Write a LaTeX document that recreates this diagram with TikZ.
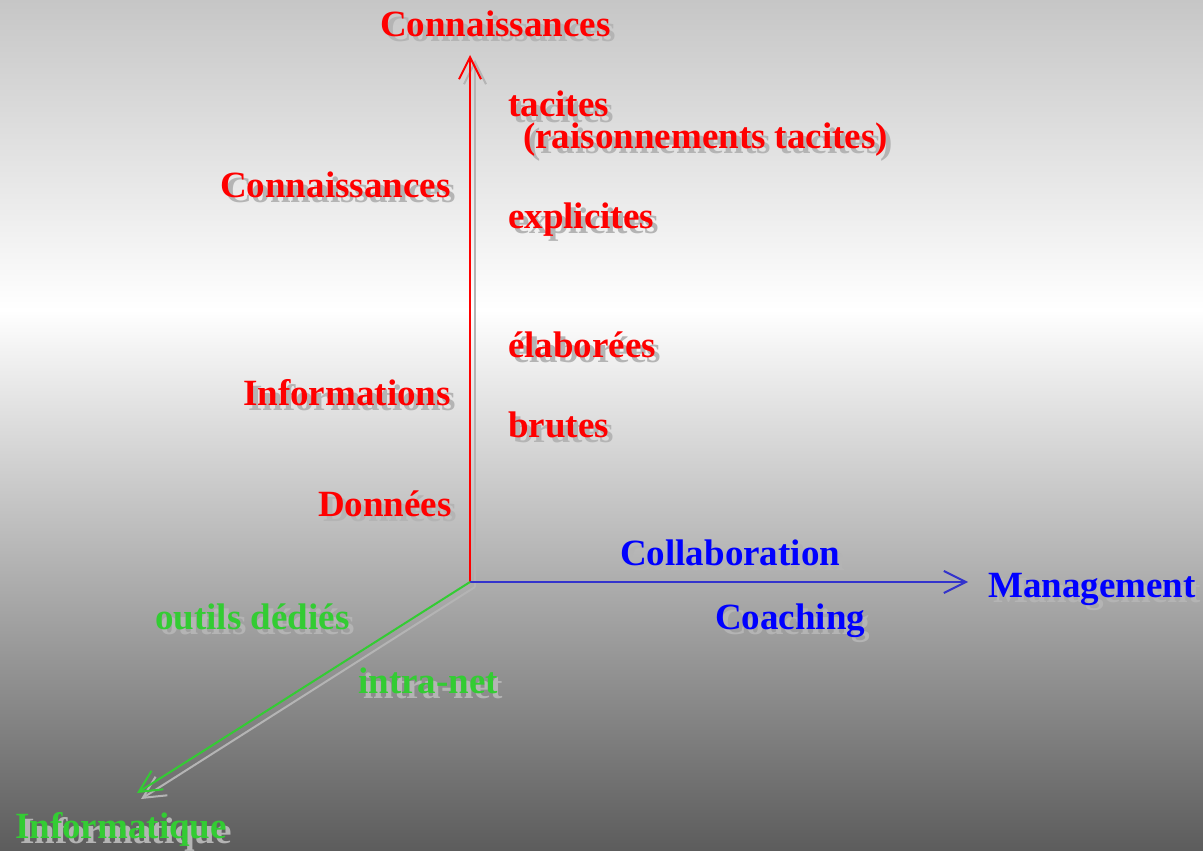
\documentclass[tikz,border=0pt]{standalone}
\usepackage{fontspec}
\setmainfont{Liberation Serif}
\usetikzlibrary{arrows.meta}
\definecolor{bgtop}{HTML}{C6C6C6}
\definecolor{bgbot}{HTML}{5C5C5C}
\definecolor{shadowc}{HTML}{B4B4B4}
\definecolor{kred}{HTML}{FF0000}
\definecolor{kblue}{HTML}{0000FF}
\definecolor{kbline}{HTML}{3333CC}
\definecolor{kgreen}{HTML}{33CC33}
\tikzset{
  lbl/.style={anchor=base west, inner sep=0pt, font=\fontsize{37}{40}\selectfont\bfseries},
  axis/.style={line width=2pt, -{Straight Barb[length=22pt,width=22pt,line width=2pt]}},
}
\newcommand\shtext[5]{%
  \node[lbl,text=shadowc] at (#2+5,#3+5) {#5};
  \node[lbl,text=#4] (#1) at (#2,#3) {#5};}
\begin{document}
\begin{tikzpicture}[x=1pt,y=-1pt]
\useasboundingbox (0,0) rectangle (1203,851);
\shade[top color=bgtop, bottom color=white] (0,0) rectangle (1203,310);
\shade[top color=white, bottom color=bgbot] (0,309.5) rectangle (1203,851);
% axes
\coordinate (O) at (470,582);
\coordinate (Os) at (475,587);
\coordinate (Ytip) at (470,55);
\coordinate (Ytips) at (475,60);
\coordinate (Xtip) at (968,582);
\coordinate (Zt) at (137,793);
\coordinate (Zts) at (141,799);
\draw[axis, shadowc] (Os) -- (Ytips);
\draw[axis, shadowc] (Os) -- (Zts);
\draw[axis, kred] (O) -- (Ytip);
\draw[axis, kbline] (O) -- (Xtip);
\draw[axis, kgreen] (O) -- (Zt);
% labels
\shtext{ctop}{380}{37}{kred}{Connaissances}
\shtext{tac}{508}{117}{kred}{tacites}
\shtext{rais}{523}{148}{kred}{(raisonnements tacites)}
\shtext{cleft}{220}{197}{kred}{Connaissances}
\shtext{expl}{508}{228}{kred}{explicites}
\shtext{elab}{508}{357}{kred}{élaborées}
\shtext{info}{243}{405}{kred}{Informations}
\shtext{brut}{508}{437}{kred}{brutes}
\shtext{donn}{318}{516}{kred}{Données}
\shtext{coll}{620}{565}{kblue}{Collaboration}
\shtext{mana}{988}{597}{kblue}{Management}
\shtext{coac}{715}{629}{kblue}{Coaching}
\shtext{outi}{155}{629}{kgreen}{outils dédiés}
\shtext{intr}{358}{693}{kgreen}{intra-net}
\shtext{inform}{15}{838}{kgreen}{Informatique}
\end{tikzpicture}
\end{document}
